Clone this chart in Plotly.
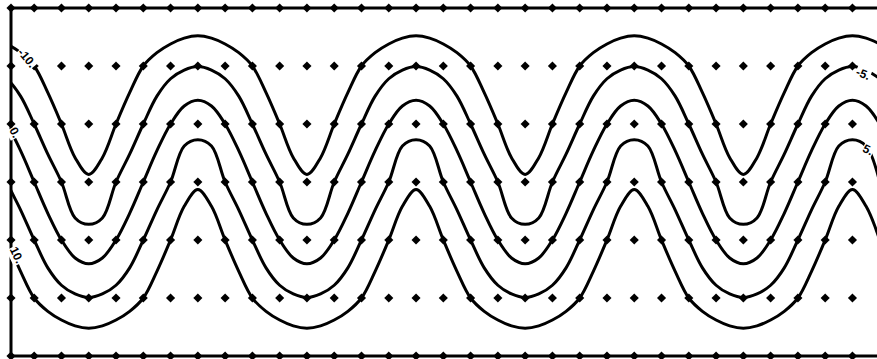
import plotly.graph_objects as go

# Sample grid: columns and rows of the measurement lattice
grid_cols = list(range(1, 32))
grid_rows = [1, 2, 3, 4, 5]
frame_left = 0.15
frame_right = 31.9
frame_bottom = 0
frame_top = 6

# Abscissae (in grid columns) at which each contour is tabulated
contour_x = [k / 2 for k in range(-2, 65)]

# Contour ordinates (in grid rows), one list per level
level_m10 = [
    5.52, 5.48, 5.38, 5.23, 5.00, 4.54, 4.00, 3.42, 3.13, 3.42, 4.00, 4.54, 5.00, 5.23, 5.38, 5.48,
    5.52, 5.48, 5.38, 5.23, 5.00, 4.54, 4.00, 3.42, 3.13, 3.42, 4.00, 4.54, 5.00, 5.23, 5.38, 5.48,
    5.52, 5.48, 5.38, 5.23, 5.00, 4.54, 4.00, 3.42, 3.13, 3.42, 4.00, 4.54, 5.00, 5.23, 5.38, 5.48,
    5.52, 5.48, 5.38, 5.23, 5.00, 4.54, 4.00, 3.42, 3.13, 3.42, 4.00, 4.54, 5.00, 5.23, 5.38, 5.48,
    5.52, 5.48, 5.38,
]
level_m5 = [
    4.99, 4.93, 4.78, 4.48, 4.00, 3.48, 3.00, 2.38, 2.27, 2.38, 3.00, 3.48, 4.00, 4.48, 4.78, 4.93,
    4.99, 4.93, 4.78, 4.48, 4.00, 3.48, 3.00, 2.38, 2.27, 2.38, 3.00, 3.48, 4.00, 4.48, 4.78, 4.93,
    4.99, 4.93, 4.78, 4.48, 4.00, 3.48, 3.00, 2.38, 2.27, 2.38, 3.00, 3.48, 4.00, 4.48, 4.78, 4.93,
    4.99, 4.93, 4.78, 4.48, 4.00, 3.48, 3.00, 2.38, 2.27, 2.38, 3.00, 3.48, 4.00, 4.48, 4.78, 4.93,
    4.99, 4.93, 4.78,
]
level_0 = [
    4.41, 4.31, 4.00, 3.54, 3.00, 2.46, 2.00, 1.69, 1.59, 1.69, 2.00, 2.46, 3.00, 3.54, 4.00, 4.31,
    4.41, 4.31, 4.00, 3.54, 3.00, 2.46, 2.00, 1.69, 1.59, 1.69, 2.00, 2.46, 3.00, 3.54, 4.00, 4.31,
    4.41, 4.31, 4.00, 3.54, 3.00, 2.46, 2.00, 1.69, 1.59, 1.69, 2.00, 2.46, 3.00, 3.54, 4.00, 4.31,
    4.41, 4.31, 4.00, 3.54, 3.00, 2.46, 2.00, 1.69, 1.59, 1.69, 2.00, 2.46, 3.00, 3.54, 4.00, 4.31,
    4.41, 4.31, 4.00,
]
level_5 = [
    3.73, 3.62, 3.00, 2.52, 2.00, 1.52, 1.22, 1.07, 1.01, 1.07, 1.22, 1.52, 2.00, 2.52, 3.00, 3.62,
    3.73, 3.62, 3.00, 2.52, 2.00, 1.52, 1.22, 1.07, 1.01, 1.07, 1.22, 1.52, 2.00, 2.52, 3.00, 3.62,
    3.73, 3.62, 3.00, 2.52, 2.00, 1.52, 1.22, 1.07, 1.01, 1.07, 1.22, 1.52, 2.00, 2.52, 3.00, 3.62,
    3.73, 3.62, 3.00, 2.52, 2.00, 1.52, 1.22, 1.07, 1.01, 1.07, 1.22, 1.52, 2.00, 2.52, 3.00, 3.62,
    3.73, 3.62, 3.00,
]
level_10 = [
    2.87, 2.58, 2.00, 1.46, 1.00, 0.77, 0.62, 0.52, 0.48, 0.52, 0.62, 0.77, 1.00, 1.46, 2.00, 2.58,
    2.87, 2.58, 2.00, 1.46, 1.00, 0.77, 0.62, 0.52, 0.48, 0.52, 0.62, 0.77, 1.00, 1.46, 2.00, 2.58,
    2.87, 2.58, 2.00, 1.46, 1.00, 0.77, 0.62, 0.52, 0.48, 0.52, 0.62, 0.77, 1.00, 1.46, 2.00, 2.58,
    2.87, 2.58, 2.00, 1.46, 1.00, 0.77, 0.62, 0.52, 0.48, 0.52, 0.62, 0.77, 1.00, 1.46, 2.00, 2.58,
    2.87, 2.58, 2.00,
]

# Contour labels: text, position (column, row) and writing angle
label_text = ["-10.", "0.", "10.", "-5.", "5."]
label_col = [0.72, 0.28, 0.37, 31.40, 31.58]
label_row = [5.13, 3.86, 1.75, 4.86, 3.55]
label_angle = [50, 62, 64, 22, 26]

fig = go.Figure()

# Interior lattice dots
dot_x = [c for r in grid_rows for c in grid_cols]
dot_y = [r for r in grid_rows for c in grid_cols]
fig.add_trace(go.Scatter(
    x=dot_x, y=dot_y, mode="markers",
    marker=dict(symbol="diamond", size=7, color="black"),
    hoverinfo="skip", showlegend=False,
))

# Contour lines
for ys in [level_m10, level_m5, level_0, level_5, level_10]:
    fig.add_trace(go.Scatter(
        x=contour_x, y=ys, mode="lines",
        line=dict(color="black", width=3, shape="spline", smoothing=1.0),
        hoverinfo="skip", showlegend=False,
    ))

# Frame ticks on the top, bottom and left edges
tick_x = [frame_left] + grid_cols
edge_x = tick_x + tick_x + [frame_left] * len(grid_rows)
edge_y = [frame_top] * len(tick_x) + [frame_bottom] * len(tick_x) + grid_rows
fig.add_trace(go.Scatter(
    x=edge_x, y=edge_y, mode="markers", cliponaxis=False,
    marker=dict(symbol="diamond", size=7, color="black"),
    hoverinfo="skip", showlegend=False,
))

# Frame lines
frame_style = dict(color="black", width=3)
fig.add_shape(type="line", xref="paper", yref="paper", x0=0, x1=1, y0=1, y1=1, line=frame_style)
fig.add_shape(type="line", xref="paper", yref="paper", x0=0, x1=1, y0=0, y1=0, line=frame_style)
fig.add_shape(type="line", xref="paper", yref="paper", x0=0, x1=0, y0=0, y1=1, line=frame_style)

for txt, cx, ry, ang in zip(label_text, label_col, label_row, label_angle):
    fig.add_annotation(
        x=cx, y=ry, xref="x", yref="y", text="<b>" + txt + "</b>", showarrow=False,
        textangle=ang, bgcolor="white", borderpad=0,
        font=dict(family="Liberation Sans", size=12, color="black"),
    )

fig.update_xaxes(range=[frame_left, frame_right], visible=False, fixedrange=True)
fig.update_yaxes(range=[frame_bottom, frame_top], visible=False, fixedrange=True)
fig.update_layout(
    width=877, height=359,
    margin=dict(l=11, r=0, t=8, b=3),
    paper_bgcolor="white", plot_bgcolor="white",
)

fig.write_html("out.html")
